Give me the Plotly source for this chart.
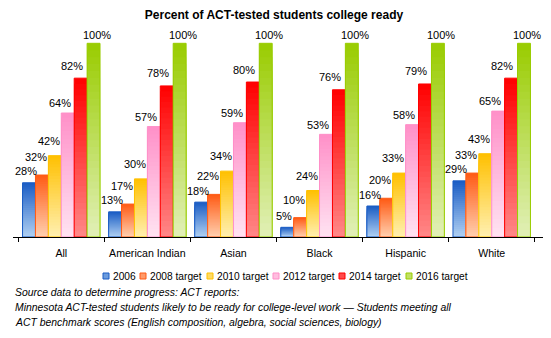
import plotly.graph_objects as go

# ---- data -------------------------------------------------------------
CATEGORIES = ["All", "American Indian", "Asian", "Black", "Hispanic", "White"]
SERIES = ["2006", "2008 target", "2010 target", "2012 target", "2014 target", "2016 target"]

V_2006 = [28, 13, 18, 5, 16, 29]
V_2008 = [32, 17, 22, 10, 20, 33]
V_2010 = [42, 30, 34, 24, 33, 43]
V_2012 = [64, 57, 59, 53, 58, 65]
V_2014 = [82, 78, 80, 76, 79, 82]
V_2016 = [100, 100, 100, 100, 100, 100]
VALUES = [V_2006, V_2008, V_2010, V_2012, V_2014, V_2016]

NOTE_LINES = [
    "Source data to determine progress: ACT reports:",
    "Minnesota ACT-tested students likely to be ready for college-level work — Students meeting all",
    "ACT benchmark scores (English composition, algebra, social sciences, biology)",
]

# ---- styling ----------------------------------------------------------
TOP_COLORS = ["#1a5cc4", "#ff5a14", "#ffc000", "#ff8fc8", "#ff0000", "#99cc00"]
BOTTOM_COLORS = ["#b0d0f2", "#ffd0b0", "#fff0b2", "#ffe4f2", "#ff8888", "#e2f0b8"]
LABEL_DX = [-3, -6, -6, -8, -9, 3]          # horizontal nudge of value labels (px)
LABEL_DY = [7.4, 14, 11, 5.8, 8.5, 4.3]     # gap between bar top and label baseline (px)
LEGEND_X = [103, 140, 207, 273, 339, 406]   # left edge of each legend swatch (px)
FONT = "Liberation Sans, Arial, sans-serif"
STEPS = 28                                  # bands used to paint the vertical gradient
GROUP = 0.9
W = GROUP / len(SERIES)

PLOT_L, PLOT_R, PLOT_T, PLOT_B = 13, 543, 30, 237


def px_x(px):
    return (px - PLOT_L) / (PLOT_R - PLOT_L)


def px_y(py):
    return (PLOT_B - py) / (PLOT_B - PLOT_T)


def hex_rgb(h):
    h = h.lstrip("#")
    return tuple(int(h[k:k + 2], 16) for k in (0, 2, 4))


def mix(c_bottom, c_top, t):
    a, b = hex_rgb(c_bottom), hex_rgb(c_top)
    return "rgb({},{},{})".format(*[round(a[k] + (b[k] - a[k]) * t) for k in range(3)])


fig = go.Figure()

for i, (name, vals) in enumerate(zip(SERIES, VALUES)):
    offset = -GROUP / 2 + i * W
    # gradient: tallest (darkest) band first, shorter lighter bands on top
    for k in range(STEPS, 0, -1):
        frac = k / STEPS
        fig.add_trace(go.Bar(
            x=CATEGORIES, y=[v * frac for v in vals],
            width=W, offset=offset,
            marker=dict(color=mix(BOTTOM_COLORS[i], TOP_COLORS[i], (k - 0.5) / STEPS),
                        line=dict(width=0)),
            showlegend=False, hoverinfo="skip",
        ))
    # outline of the full bar
    fig.add_trace(go.Bar(
        x=CATEGORIES, y=vals, width=W, offset=offset, name=name,
        marker=dict(color="rgba(0,0,0,0)", line=dict(color=TOP_COLORS[i], width=1)),
        showlegend=False,
    ))

annotations = []
shapes = []

# value labels above each bar
for i, vals in enumerate(VALUES):
    for j, v in enumerate(vals):
        annotations.append(dict(
            x=j - GROUP / 2 + i * W + W / 2, y=v, xref="x", yref="y",
            text=f"{v}%", showarrow=False, yanchor="bottom",
            xshift=LABEL_DX[i], yshift=LABEL_DY[i] - 4,
            font=dict(family=FONT, size=11, color="#000000"),
        ))

# legend row: swatch + name
for i, (name, lx) in enumerate(zip(SERIES, LEGEND_X)):
    shapes.append(dict(
        type="rect", xref="paper", yref="paper",
        x0=px_x(lx), x1=px_x(lx + 6), y0=px_y(279), y1=px_y(273),
        fillcolor=mix(BOTTOM_COLORS[i], TOP_COLORS[i], 0.45),
        line=dict(color=TOP_COLORS[i], width=1),
    ))
    annotations.append(dict(
        x=px_x(lx + 8), y=px_y(276), xref="paper", yref="paper",
        xanchor="left", yanchor="middle", showarrow=False, text=name,
        font=dict(family=FONT, size=10.2, color="#000000"),
    ))

# source note
for n, line in enumerate(NOTE_LINES):
    annotations.append(dict(
        x=0, y=px_y(292 + 15 * n), xref="paper", yref="paper",
        xanchor="left", yanchor="middle", align="left", showarrow=False,
        text=f"<i>{line}</i>",
        font=dict(family=FONT, size=10.4, color="#000000"),
    ))

fig.update_layout(
    width=551, height=338,
    margin=dict(l=PLOT_L, r=551 - PLOT_R, t=PLOT_T, b=338 - PLOT_B),
    barmode="overlay",
    paper_bgcolor="white", plot_bgcolor="white",
    title=dict(text="<b>Percent of ACT-tested students college ready</b>",
               x=274 / 551, xref="container", xanchor="center",
               y=1 - 15 / 338, yref="container", yanchor="middle",
               font=dict(family=FONT, size=12, color="#000000")),
    xaxis=dict(type="category", showline=True, linecolor="#000000", linewidth=1,
               ticks="outside", tickson="boundaries", ticklen=4, tickcolor="#000000",
               tickangle=0, showgrid=False, ticklabelstandoff=6,
               tickfont=dict(family=FONT, size=10.6, color="#000000")),
    yaxis=dict(visible=False, range=[0, 100 * 207 / 193.7], fixedrange=True),
    annotations=annotations,
    shapes=shapes,
    showlegend=False,
)

fig.write_html("out.html")
